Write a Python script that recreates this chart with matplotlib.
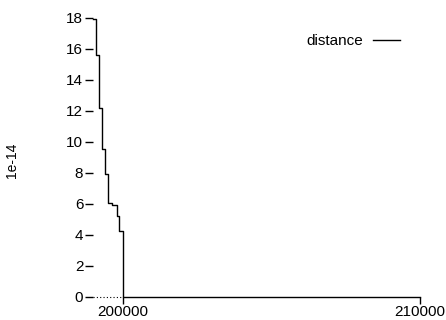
import matplotlib
matplotlib.use("Agg")
import matplotlib.pyplot as plt

# step data (x in steps, y in units of 1e-14)
step_x = [199000, 199100, 199210, 199300, 199400, 199520, 199630, 199820, 199890, 200000, 210000]
distance = [17.9, 15.6, 12.2, 9.57, 7.95, 6.05, 5.9, 5.2, 4.28, 0, 0]
y_ticks = [0, 2, 4, 6, 8, 10, 12, 14, 16, 18]
x_ticks = [200000, 210000]

plt.rcParams['font.family'] = ['Liberation Sans', 'DejaVu Sans']
plt.rcParams['font.size'] = 11

fig = plt.figure(figsize=(4.46, 3.2), dpi=100)
ax = fig.add_axes([93/446, 1-297/320, (420-93)/446, (297-17.7)/320])

ax.plot([199000, 200000], [0, 0], color='black', lw=0.8, ls=(0, (1, 2)), zorder=1, clip_on=False)
ax.step(step_x, distance, where='post', color='black', lw=1.0, label='distance', zorder=2, clip_on=False)

ax.set_xlim(199000, 210000)
ax.set_ylim(0, 18)
ax.set_xticks(x_ticks)
ax.set_xticklabels([str(v) for v in x_ticks])
ax.set_yticks(y_ticks)
for s in ax.spines.values():
    s.set_visible(False)
ax.tick_params(axis='y', length=6, width=1, pad=1)
ax.tick_params(axis='x', length=5, width=1, pad=1)

fig.text(12/446, 1-160/320, '1e-14', rotation=90, ha='center', va='center', fontsize=10)

ax.legend(loc='center right', bbox_to_anchor=(400/446, 1-41/320), bbox_transform=fig.transFigure,
          frameon=False, markerfirst=False, handlelength=1.77, handletextpad=0.65,
          borderpad=0, borderaxespad=0)

fig.savefig('out.png', dpi=100)
